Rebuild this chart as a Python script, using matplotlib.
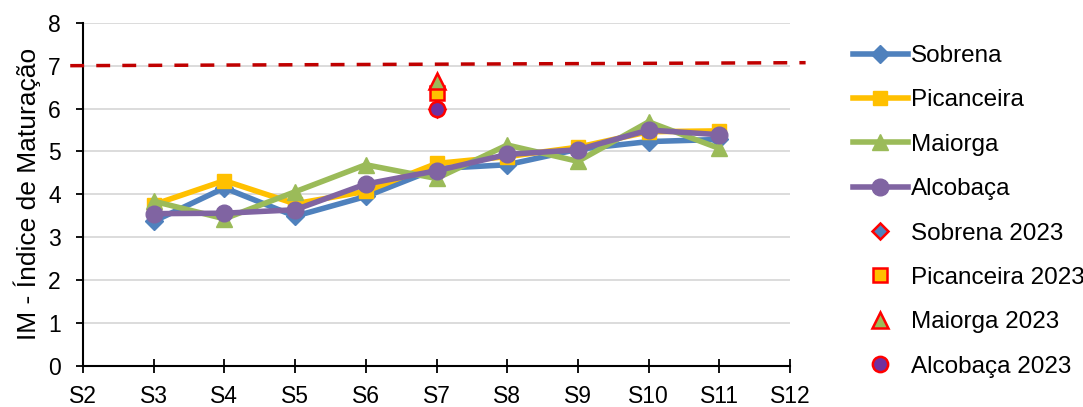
import numpy as np
import matplotlib.pyplot as plt
from matplotlib.lines import Line2D

plt.rcParams['font.family'] = ['Liberation Sans', 'DejaVu Sans']

# Sampling dates S2..S12
labels = ["S2", "S3", "S4", "S5", "S6", "S7", "S8", "S9", "S10", "S11", "S12"]
weeks = np.arange(3, 12)  # S3..S11 have data

sobrena = [3.37, 4.15, 3.49, 3.95, 4.60, 4.69, 5.05, 5.23, 5.28]
picanceira = [3.76, 4.32, 3.78, 4.07, 4.72, 4.88, 5.10, 5.46, 5.48]
maiorga = [3.84, 3.43, 4.06, 4.69, 4.37, 5.15, 4.77, 5.69, 5.07]
alcobaca = [3.55, 3.56, 3.64, 4.24, 4.55, 4.93, 5.04, 5.50, 5.39]

# 2023 values, all at S7
week_2023 = 7
sobrena_2023 = 6.00
picanceira_2023 = 6.36
maiorga_2023 = 6.64
alcobaca_2023 = 6.00

# reference limit line (slightly tilted, runs past the plot edges)
limit_x = [1.82, 12.22]
limit_y = [7.0, 7.07]

c_blue = "#4F81BD"
c_yellow = "#FFC000"
c_green = "#9BBB59"
c_purple = "#8064A2"
c_red = "#FF0000"

fig = plt.figure(figsize=(10.83, 4.07), dpi=100)
ax = fig.add_axes([0.0766, 0.1010, 0.6529, 0.8430])

lw = 4
ax.plot(weeks, sobrena, color=c_blue, lw=lw, marker="D", ms=9, label="Sobrena", zorder=3)
ax.plot(weeks, picanceira, color=c_yellow, lw=lw, marker="s", ms=10.5, label="Picanceira", zorder=3)
ax.plot(weeks, maiorga, color=c_green, lw=lw, marker="^", ms=12, label="Maiorga", zorder=3)
ax.plot(weeks, alcobaca, color=c_purple, lw=lw, marker="o", ms=12, label="Alcobaça", zorder=4)

ax.plot([week_2023], [sobrena_2023], ls="none", marker="D", ms=8, mfc=c_blue, mec=c_red, mew=1.8,
        label="Sobrena 2023", zorder=5)
ax.plot([week_2023], [picanceira_2023], ls="none", marker="s", ms=10.5, mfc=c_yellow, mec=c_red, mew=1.8,
        label="Picanceira 2023", zorder=5)
ax.plot([week_2023], [maiorga_2023], ls="none", marker="^", ms=11, mfc=c_green, mec=c_red, mew=1.8,
        label="Maiorga 2023", zorder=5)
ax.plot([week_2023], [alcobaca_2023], ls="none", marker="o", ms=11, mfc="#7030A0", mec=c_red, mew=1.8,
        label="Alcobaça 2023", zorder=6)

ax.add_line(Line2D(limit_x, limit_y, color="#C00000", lw=2.5, ls=(0, (4, 3.5)), clip_on=False, zorder=6))

ax.set_xlim(2, 12)
ax.set_ylim(0, 8)
ax.set_xticks(np.arange(2, 13))
ax.set_xticklabels(labels)
ax.set_yticks(np.arange(0, 9))
ax.yaxis.grid(True, color="#D9D9D9", lw=1.3)
ax.set_axisbelow(True)
for s in ["top", "right"]:
    ax.spines[s].set_visible(False)
for s in ["left", "bottom"]:
    ax.spines[s].set_linewidth(1.5)
ax.tick_params(axis="x", direction="inout", length=10, width=1.3, labelsize=16.5, pad=9)
ax.tick_params(axis="y", direction="out", length=5, width=1.3, labelsize=16.5, pad=11)
ax.set_ylabel("IM - Índice de Maturação", fontsize=19, labelpad=5)

fig.legend(loc="upper left", bbox_to_anchor=(0.767, 0.943), frameon=False, fontsize=17.5,
           handlelength=2.3, handletextpad=0.12, labelspacing=0.92, borderpad=0.4)

fig.savefig("out.png", dpi=100)
